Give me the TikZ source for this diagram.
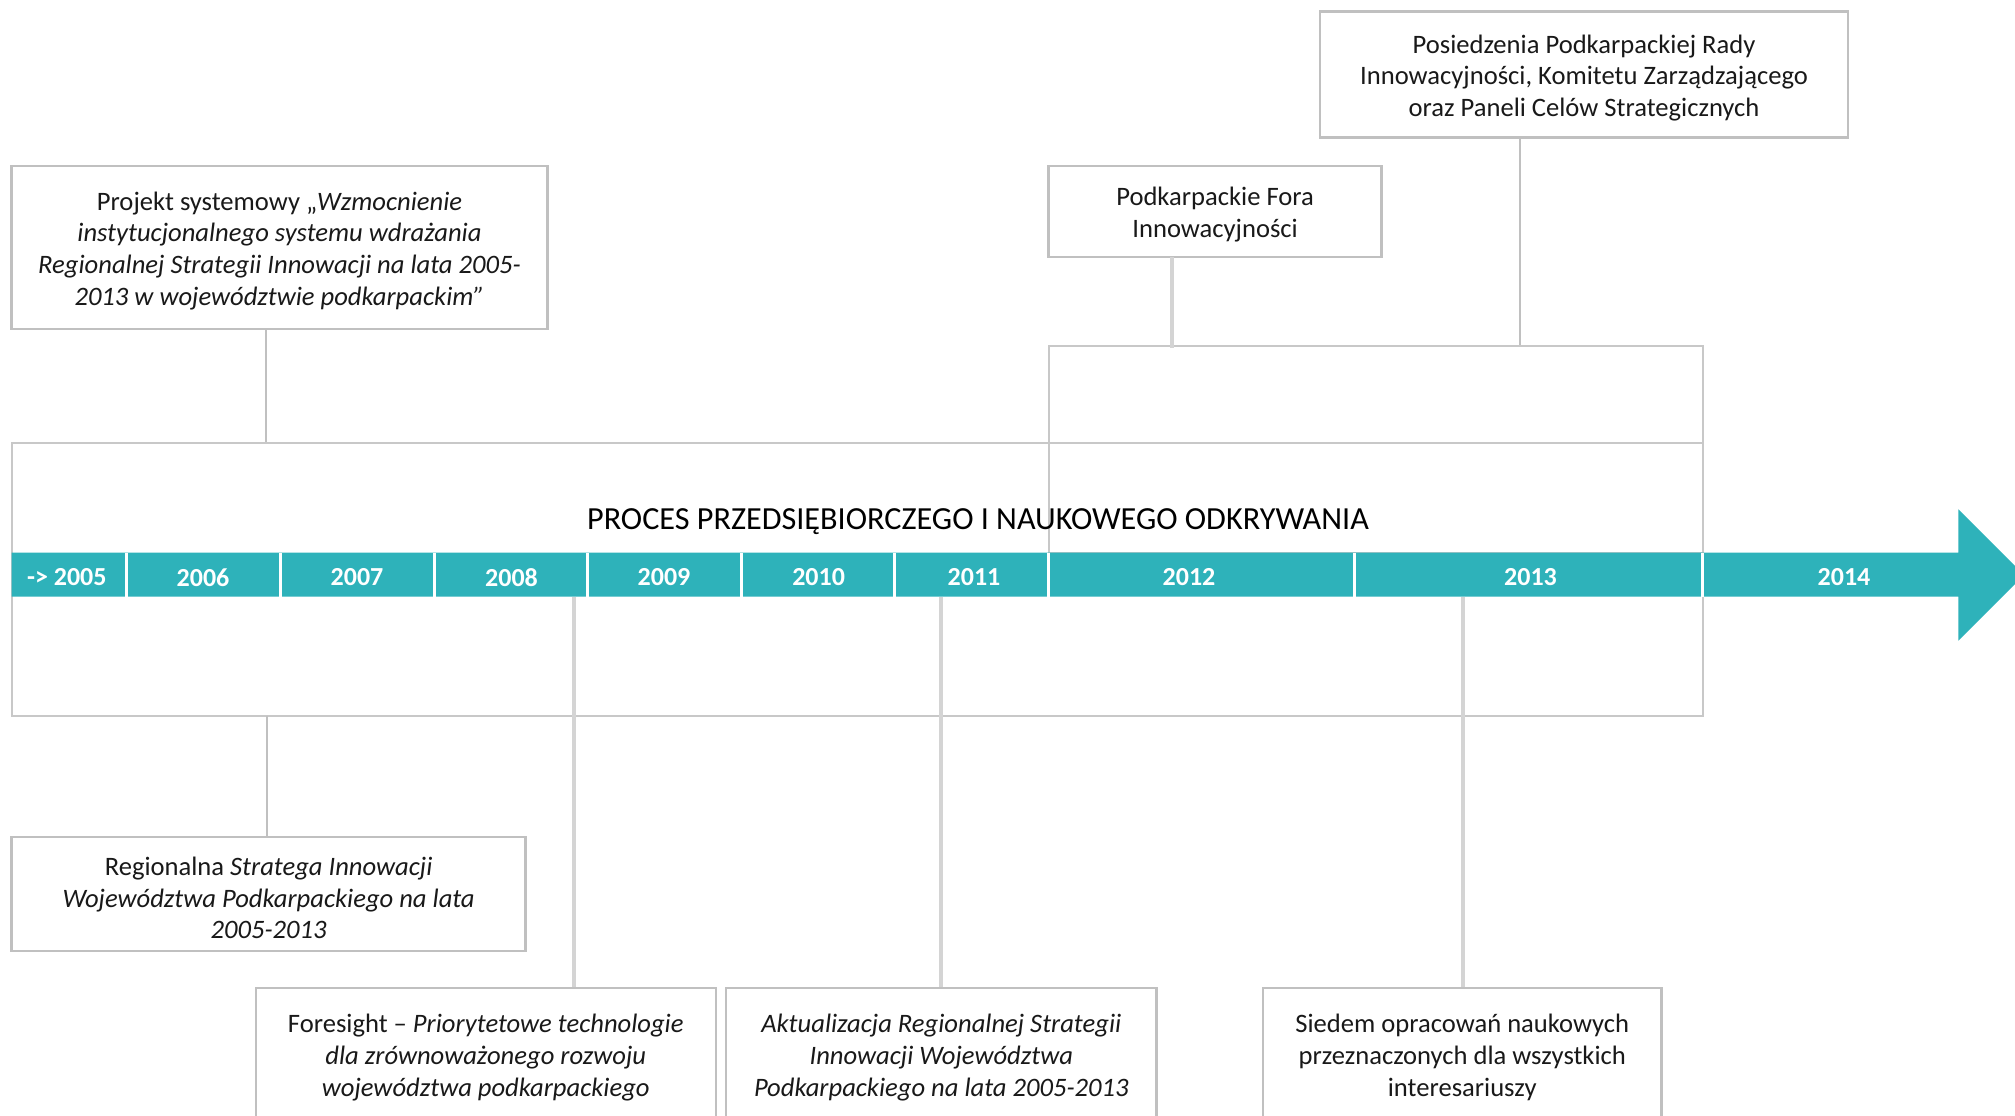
\documentclass[tikz,border=0pt]{standalone}
\usepackage{fontspec}
\setmainfont{Carlito}
\definecolor{tealbar}{RGB}{46,178,186}
\definecolor{boxgray}{RGB}{192,192,192}
\definecolor{rectgray}{RGB}{200,200,200}
\definecolor{conngray}{RGB}{212,212,212}
\tikzset{
  txtbox/.style={draw=boxgray, line width=1.25pt, fill=white, inner sep=0pt},
  boxtext/.style={inner sep=0pt, align=center,
    font=\fontsize{13.3}{15.9}\selectfont, text=black!90},
  bigrect/.style={draw=rectgray, line width=0.9pt, inner sep=0pt},
  thinconn/.style={draw=boxgray, line width=1pt},
  thickconn/.style={draw=conngray, line width=2pt},
  yearlbl/.style={text=white, font=\fontsize{13}{15}\selectfont\bfseries, inner sep=0pt},
  divider/.style={draw=white, line width=1.5pt}
}
\begin{document}
\begin{tikzpicture}[x=0.5pt,y=-0.5pt]
\useasboundingbox (0,0) rectangle (2015,1115);
\clip (0,0) rectangle (2015,1115);
\fill[white] (0,0) rectangle (2015,1115);

% frames
\node[bigrect, minimum width=845.6pt, minimum height=136.5pt] (proc) at (857.2,579.2) {};
\node[bigrect, minimum width=327.05pt, minimum height=103.5pt] (ov) at (1375.75,449.2) {};
\node[font=\fontsize{16.1}{19}\selectfont, inner sep=0pt] (title) at (978,522) {PROCES PRZEDSIĘBIORCZEGO I NAUKOWEGO ODKRYWANIA};

% timeline arrow
\fill[tealbar] (11.6,552.7) -- (1958.3,552.7) -- (1958.3,509.3) -- (2024,575) -- (1958.3,640.7) -- (1958.3,596.7) -- (11.6,596.7) -- cycle;
\foreach \dx in {126,280,434,587,741.5,894.4,1048.7,1354.5,1702.8}
  \draw[divider] (\dx,553) -- (\dx,596.5);

\node[yearlbl] (y2005) at (66.8,577.5) {-> 2005};
\node[yearlbl] (y2006) at (203,577.5) {2006};
\node[yearlbl] (y2007) at (357,577.5) {2007};
\node[yearlbl] (y2008) at (511.5,577.5) {2008};
\node[yearlbl] (y2009) at (664,577.5) {2009};
\node[yearlbl] (y2010) at (818.6,577.5) {2010};
\node[yearlbl] (y2011) at (974,577.5) {2011};
\node[yearlbl] (y2012) at (1189,577.5) {2012};
\node[yearlbl] (y2013) at (1530.5,577.5) {2013};
\node[yearlbl] (y2014) at (1844,577.5) {2014};

% boxes
\node[txtbox, minimum width=268pt, minimum height=81.5pt] (proj) at (279.5,247.4) {};
\node[txtbox, minimum width=264pt, minimum height=63pt] (posi) at (1584,74.5) {};
\node[txtbox, minimum width=166.4pt, minimum height=45.6pt] (fora) at (1215.1,211.4) {};
\node[txtbox, minimum width=257pt, minimum height=57.2pt] (reg) at (268.6,894) {};
\node[txtbox, minimum width=230pt, minimum height=66pt] (fore) at (485.75,1054) {};
\node[txtbox, minimum width=215.3pt, minimum height=66pt] (akt) at (941.3,1054) {};
\node[txtbox, minimum width=199.3pt, minimum height=66pt] (sied) at (1462.3,1054) {};

% box texts
\node[boxtext] (projt) at ([yshift=-1.7pt]proj.center)
  {Projekt systemowy „\textit{Wzmocnienie}\\ \textit{instytucjonalnego systemu wdrażania}\\ \textit{Regionalnej Strategii Innowacji na lata 2005-}\\ \textit{2013 w województwie podkarpackim”}};
\node[boxtext] (posit) at ([yshift=-1.7pt]posi.center)
  {Posiedzenia Podkarpackiej Rady\\ Innowacyjności, Komitetu Zarządzającego\\ oraz Paneli Celów Strategicznych};
\node[boxtext] (forat) at ([yshift=-1.7pt]fora.center)
  {Podkarpackie Fora\\ Innowacyjności};
\node[boxtext] (regt) at ([yshift=-2pt]reg.center)
  {Regionalna \textit{Stratega Innowacji}\\ \textit{Województwa Podkarpackiego na lata}\\ \textit{2005-2013}};
\node[boxtext] (foret) at ([yshift=-1.7pt]fore.center)
  {Foresight – \textit{Priorytetowe technologie}\\ \textit{dla zrównoważonego rozwoju}\\ \textit{województwa podkarpackiego}};
\node[boxtext] (aktt) at ([yshift=-1.7pt]akt.center)
  {\textit{Aktualizacja Regionalnej Strategii}\\ \textit{Innowacji Województwa}\\ \textit{Podkarpackiego na lata 2005-2013}};
\node[boxtext] (siedt) at ([yshift=-1.7pt]sied.center)
  {Siedem opracowań naukowych\\ przeznaczonych dla wszystkich\\ interesariuszy};

% connector anchor points
\coordinate (cproj) at (266,329);
\coordinate (cfora) at (1172.3,257);
\coordinate (cposi) at (1520,137.5);
\coordinate (creg) at (267,715.7);
\coordinate (c2008) at (574.4,596.7);
\coordinate (c2011) at (940.7,596.7);
\coordinate (c2013) at (1462.5,596.7);

% connectors
\draw[thinconn] (cproj) -- (cproj |- proc.north);
\draw[thickconn] (cfora) -- ([yshift=-1.5pt]cfora |- ov.north);
\draw[thinconn] (cposi) -- (cposi |- ov.north);
\draw[thinconn] (creg) -- (creg |- reg.north);
\draw[thickconn] (c2008) -- (c2008 |- fore.north);
\draw[thickconn] (c2011) -- (c2011 |- akt.north);
\draw[thickconn] (c2013) -- (c2013 |- sied.north);
\end{tikzpicture}
\end{document}
